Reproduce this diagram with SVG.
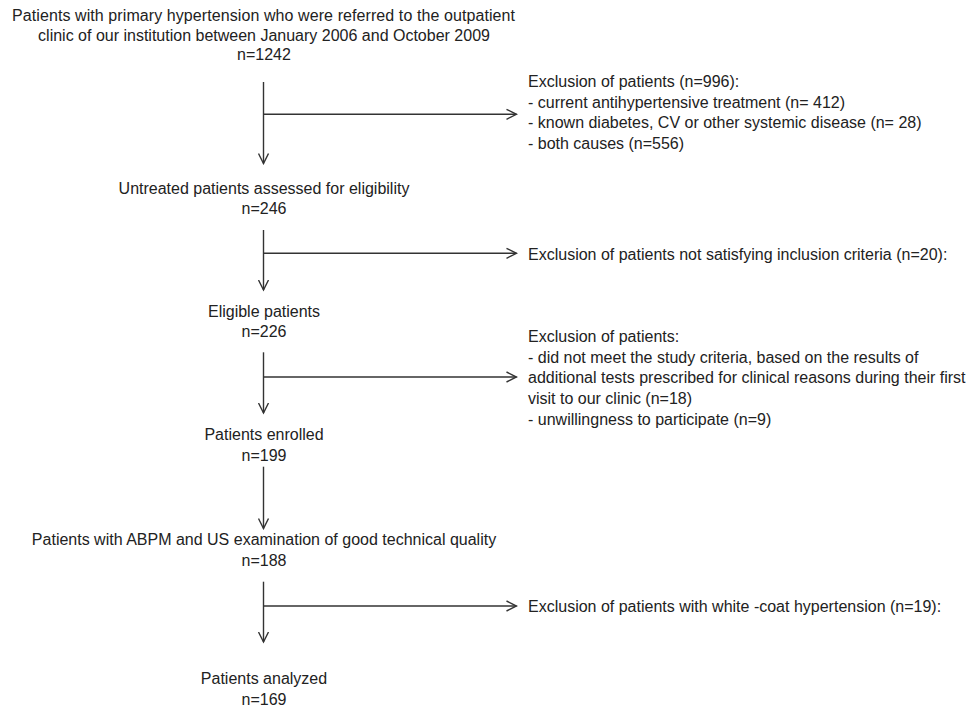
<svg xmlns="http://www.w3.org/2000/svg" width="967" height="707" viewBox="0 0 967 707">
<style>
text{font-family:"Liberation Sans",Arial,sans-serif;font-size:16px;fill:#222}
.c{text-anchor:middle}
.ln{stroke:#333;stroke-width:1.4;fill:none}
</style>
<defs>
<marker id="ah" markerUnits="userSpaceOnUse" markerWidth="12" markerHeight="12" viewBox="0 0 12 12" refX="10.5" refY="6" orient="auto">
<path d="M0.5,1 L10.5,6 L0.5,11" fill="none" stroke="#333" stroke-width="1.4"/>
</marker>
</defs>
<rect width="967" height="707" fill="#fff"/>
<g id="n1">
<text x="12" y="21" textLength="503" lengthAdjust="spacing">Patients with primary hypertension who were referred to the outpatient</text>
<text class="c" x="264" y="40.5">clinic of our institution between January 2006 and October 2009</text>
<text class="c" x="264" y="60">n=1242</text>
</g>
<g id="x1">
<text x="528" y="87">Exclusion of patients (n=996):</text>
<text x="528" y="107.5">- current antihypertensive treatment (n= 412)</text>
<text x="528" y="128">- known diabetes, CV or other systemic disease (n= 28)</text>
<text x="528" y="148.5">- both causes (n=556)</text>
</g>
<g id="n2">
<text class="c" x="264" y="193.5">Untreated patients assessed for eligibility</text>
<text class="c" x="264" y="214">n=246</text>
</g>
<g id="x2">
<text x="528" y="259.5">Exclusion of patients not satisfying inclusion criteria (n=20):</text>
</g>
<g id="n3">
<text class="c" x="264" y="316.5">Eligible patients</text>
<text class="c" x="264" y="337">n=226</text>
</g>
<g id="x3">
<text x="528" y="341.5">Exclusion of patients:</text>
<text x="528" y="362.5">- did not meet the study criteria, based on the results of</text>
<text x="528" y="383">additional tests prescribed for clinical reasons during their first</text>
<text x="528" y="404">visit to our clinic (n=18)</text>
<text x="528" y="424.5">- unwillingness to participate (n=9)</text>
</g>
<g id="n4">
<text class="c" x="264" y="440">Patients enrolled</text>
<text class="c" x="264" y="460.5">n=199</text>
</g>
<g id="n5">
<text class="c" x="264" y="545">Patients with ABPM and US examination of good technical quality</text>
<text class="c" x="264" y="566">n=188</text>
</g>
<g id="x5">
<text x="528" y="611.5">Exclusion of patients with  white -coat hypertension (n=19):</text>
</g>
<g id="n6">
<text class="c" x="264" y="684">Patients analyzed</text>
<text class="c" x="264" y="704.5">n=169</text>
</g>
<g id="connectors">
<line class="ln" x1="263.5" y1="82" x2="263.5" y2="163.5" marker-end="url(#ah)"/>
<line class="ln" x1="263.5" y1="114.3" x2="516.5" y2="114.3" marker-end="url(#ah)"/>
<line class="ln" x1="263.5" y1="230" x2="263.5" y2="290" marker-end="url(#ah)"/>
<line class="ln" x1="263.5" y1="253.3" x2="516.5" y2="253.3" marker-end="url(#ah)"/>
<line class="ln" x1="263.5" y1="352.3" x2="263.5" y2="413" marker-end="url(#ah)"/>
<line class="ln" x1="263.5" y1="377" x2="516.5" y2="377" marker-end="url(#ah)"/>
<line class="ln" x1="263.5" y1="466.7" x2="263.5" y2="528.5" marker-end="url(#ah)"/>
<line class="ln" x1="263.5" y1="581.7" x2="263.5" y2="642" marker-end="url(#ah)"/>
<line class="ln" x1="263.5" y1="606" x2="516.5" y2="606" marker-end="url(#ah)"/>
</g>
</svg>
